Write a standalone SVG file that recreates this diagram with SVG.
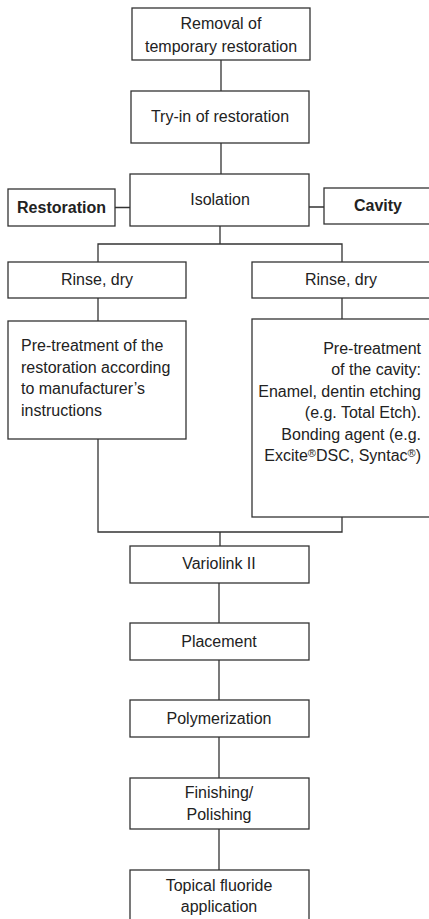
<svg xmlns="http://www.w3.org/2000/svg" width="429" height="919" viewBox="0 0 429 919">
<style>
.box{fill:#fff;stroke:#333;stroke-width:1.3}
.t{font-family:"Liberation Sans",Arial,sans-serif;font-size:16px;fill:#222;text-anchor:middle}
.b{font-weight:bold}
.l{text-anchor:start}
.r{text-anchor:end}
.sup{font-size:11px}
.c{fill:none;stroke:#333;stroke-width:1.3}
</style>
<rect width="429" height="919" fill="#fff"/>
<g id="connectors" class="c">
<path d="M221 60V91M221 143V174M115 207.5H130M309 207H324M220 226V244M98 262V244H342V262M98 298V321M342 298V319M98 439V532H342V517M220 532V546M219 583V623M219 660V700M219 737V778M219 829V870"/>
</g>
<g id="removal"><rect class="box" x="132" y="8" width="178" height="52"/><text class="t" x="221" y="29">Removal of</text><text class="t" x="221" y="52">temporary restoration</text></g>
<g id="tryin"><rect class="box" x="131" y="91" width="178" height="52"/><text class="t" x="220" y="122">Try-in of restoration</text></g>
<g id="isolation"><rect class="box" x="130" y="174" width="179" height="52"/><text class="t" x="220" y="205">Isolation</text></g>
<g id="restoration"><rect class="box" x="8" y="189" width="107" height="37"/><text class="t b" x="61.5" y="213">Restoration</text></g>
<g id="cavity"><rect class="box" x="324" y="188" width="110" height="36"/><text class="t b" x="378" y="211">Cavity</text></g>
<g id="rinse-left"><rect class="box" x="8" y="262" width="178" height="36"/><text class="t" x="97" y="285">Rinse, dry</text></g>
<g id="rinse-right"><rect class="box" x="252" y="262" width="180" height="36"/><text class="t" x="341" y="285">Rinse, dry</text></g>
<g id="pretreat-restoration"><rect class="box" x="8" y="321" width="178" height="118"/>
<text class="t l" x="21" y="351">Pre-treatment of the</text><text class="t l" x="21" y="373">restoration according</text><text class="t l" x="21" y="394">to manufacturer’s</text><text class="t l" x="21" y="416">instructions</text></g>
<g id="pretreat-cavity"><rect class="box" x="252" y="319" width="180" height="198"/>
<text class="t r" x="421" y="354">Pre-treatment</text><text class="t r" x="421" y="375">of the cavity:</text><text class="t r" x="421" y="397">Enamel, dentin etching</text><text class="t r" x="421" y="418">(e.g. Total Etch).</text><text class="t r" x="421" y="440">Bonding agent (e.g.</text><text class="t r" x="421" y="461">Excite<tspan class="sup" dy="-4">®</tspan><tspan dy="4">DSC, Syntac</tspan><tspan class="sup" dy="-4">®</tspan><tspan dy="4">)</tspan></text></g>
<g id="variolink"><rect class="box" x="130" y="546" width="179" height="37"/><text class="t" x="219" y="569">Variolink II</text></g>
<g id="placement"><rect class="box" x="130" y="623" width="179" height="37"/><text class="t" x="219" y="647">Placement</text></g>
<g id="polymerization"><rect class="box" x="130" y="700" width="179" height="37"/><text class="t" x="219" y="724">Polymerization</text></g>
<g id="finishing"><rect class="box" x="130" y="778" width="179" height="51"/><text class="t" x="219" y="798">Finishing/</text><text class="t" x="219" y="820">Polishing</text></g>
<g id="fluoride"><rect class="box" x="130" y="870" width="179" height="60"/><text class="t" x="219" y="891">Topical fluoride</text><text class="t" x="219" y="912">application</text></g>
</svg>
